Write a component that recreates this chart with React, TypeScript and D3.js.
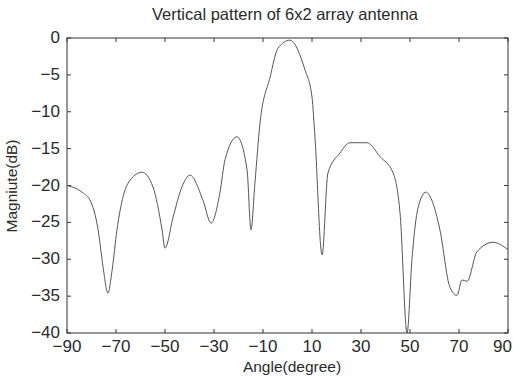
import React from "react";
import * as d3 from "d3";

const angles = [-90, -83.5, -80.6, -77.3, -75.3, -73.3, -71.6, -69.6, -67.1, -65.1, -59.4, -54.9, -51.2, -50.0, -46.7, -43.1, -39.8, -34.5, -31.2, -27.6, -25.5, -20.6, -16.5, -14.9, -13.3, -11.2, -7.1, -3.9, 1.0, 7.1, 10.0, 11.2, 14.1, 16.5, 21.4, 25.5, 32.4, 37.8, 43.1, 46.0, 48.8, 50.8, 53.3, 56.5, 58.9, 62.2, 66.3, 69.2, 71.2, 73.3, 77.3, 83.9, 90];
const magnitudes = [-20.0, -21.0, -22.0, -26.0, -31.0, -34.6, -31.5, -26.0, -21.5, -19.7, -18.2, -20.2, -26.0, -28.5, -24.3, -20.2, -18.6, -22.0, -25.1, -21.0, -16.5, -13.4, -17.9, -26.0, -19.7, -11.5, -5.3, -1.4, -0.3, -4.3, -8.0, -13.4, -29.4, -18.3, -15.6, -14.2, -14.2, -16.1, -18.3, -24.0, -40.0, -30.0, -23.0, -20.9, -22.0, -26.0, -33.8, -34.9, -32.8, -33.0, -29.0, -27.7, -28.7];
const xTicks = [-90, -70, -50, -30, -10, 10, 30, 50, 70, 90];
const yTicks = [0, -5, -10, -15, -20, -25, -30, -35, -40];

const title = "Vertical pattern of 6x2 array antenna";
const xLabel = "Angle(degree)";
const yLabel = "Magniute(dB)";

const fmt = (v: number) => (v < 0 ? "\u2212" + Math.abs(v) : String(v));

export default function App() {
  const W = 513, H = 377;
  const left = 67, right = 508, top = 38, bottom = 333;
  const x = d3.scaleLinear().domain([-90, 90]).range([left, right]);
  const y = d3.scaleLinear().domain([-40, 0]).range([bottom, top]);
  const pts: [number, number][] = angles.map((a, i) => [a, magnitudes[i]]);
  const line = d3.line<[number, number]>().x(d => x(d[0])).y(d => y(d[1])).curve(d3.curveMonotoneX);
  const font = "'Liberation Sans', Arial, sans-serif";
  const tl = 4;
  const ink = "#2a2a2a";
  return (
    <svg width={W} height={H} style={{ position: "absolute", left: 0, top: 0, background: "#fff" }} fontFamily={font}>
      <rect x={0} y={0} width={W} height={H} fill="#fff" />
      <text x={285} y={20} textAnchor="middle" fontSize={16.5} fill={ink}>{title}</text>
      <rect x={left} y={top} width={right - left} height={bottom - top} fill="none" stroke="#333" strokeWidth={1} />
      {xTicks.map((t, i) => {
        const last = i === xTicks.length - 1;
        return (
          <g key={"x" + t}>
            <line x1={x(t)} x2={x(t)} y1={bottom} y2={bottom - tl} stroke="#333" />
            <line x1={x(t)} x2={x(t)} y1={top} y2={top + tl} stroke="#333" />
            <text x={last ? 512 : x(t)} y={352} textAnchor={last ? "end" : "middle"} fontSize={17} fill={ink}>{fmt(t)}</text>
          </g>
        );
      })}
      {yTicks.map(t => (
        <g key={"y" + t}>
          <line x1={left} x2={left + tl} y1={y(t)} y2={y(t)} stroke="#333" />
          <line x1={right} x2={right - tl} y1={y(t)} y2={y(t)} stroke="#333" />
          <text x={60} y={y(t) + 5} textAnchor="end" fontSize={17} fill={ink}>{fmt(t)}</text>
        </g>
      ))}
      <text x={292} y={372} textAnchor="middle" fontSize={15.5} fill={ink}>{xLabel}</text>
      <text transform={`translate(17,${186}) rotate(-90)`} textAnchor="middle" fontSize={15.5} fill={ink}>{yLabel}</text>
      <path d={line(pts) || ""} fill="none" stroke="#555" strokeWidth={1} />
    </svg>
  );
}
